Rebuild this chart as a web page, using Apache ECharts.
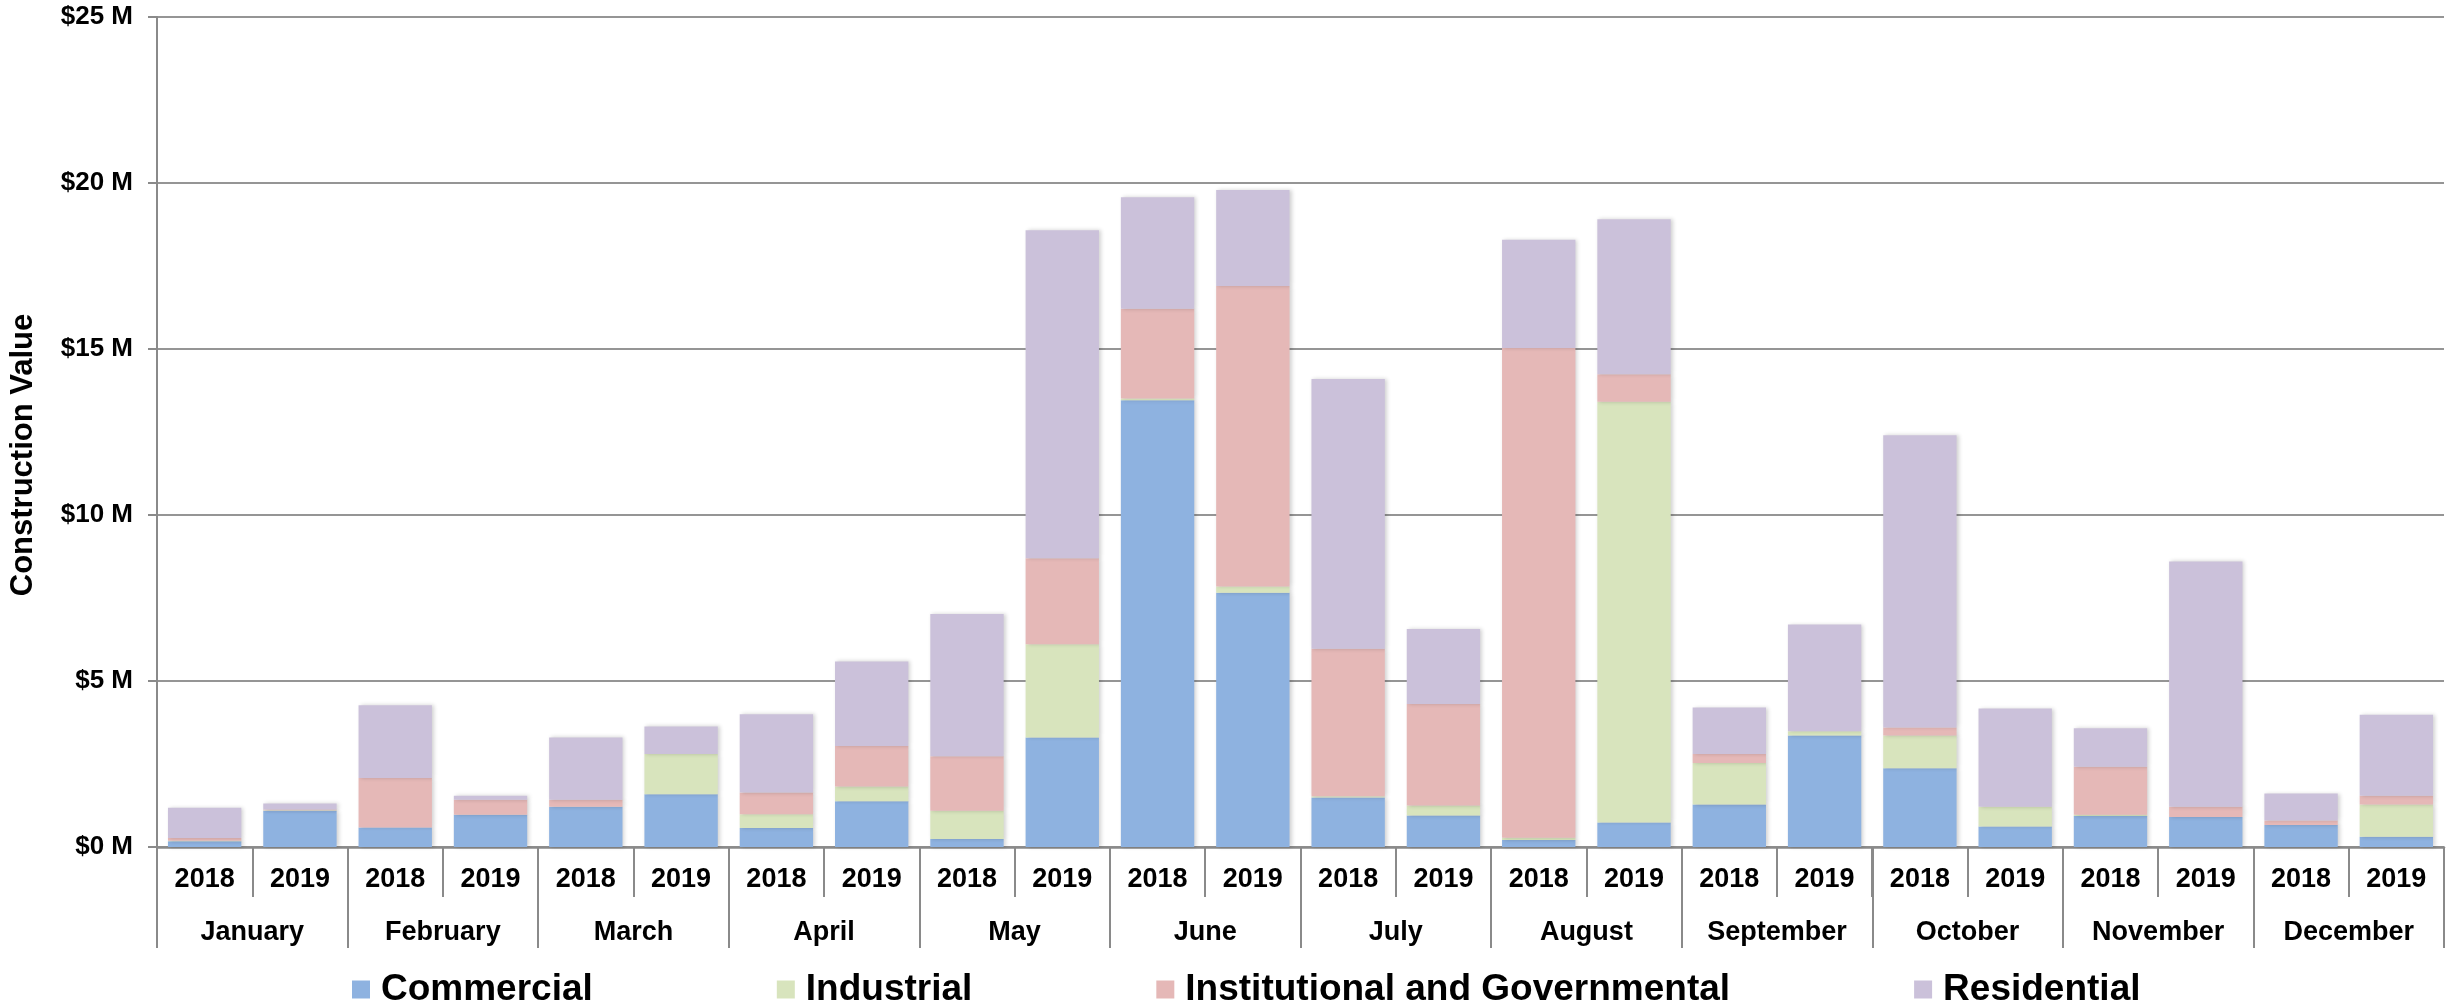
<!DOCTYPE html>
<html>
<head>
<meta charset="utf-8">
<script src="https://cdn.jsdelivr.net/npm/echarts@6/dist/echarts.min.js"></script>
<style>
html,body{margin:0;padding:0;background:#fff;}
#chart{width:2454px;height:1008px;}
</style>
</head>
<body>
<div id="chart"></div>
<script>
const months = ['January','February','March','April','May','June','July','August','September','October','November','December'];
const years = ['2018','2019'];
const yTicks = [0, 5, 10, 15, 20, 25];
// values in $ millions, order: Jan2018, Jan2019, Feb2018, ...
const commercial    = [0.17,1.09, 0.59,0.97, 1.21,1.59, 0.57,1.38, 0.24,3.30, 13.46,7.66, 1.49,0.95, 0.21,0.74, 1.28,3.36, 2.37,0.62, 0.93,0.90, 0.66,0.31];
const industrial    = [0.02,0.02, 0.00,0.00, 0.00,1.21, 0.42,0.44, 0.85,2.81, 0.05,0.19, 0.04,0.30, 0.07,12.67, 1.25,0.13, 0.99,0.59, 0.04,0.00, 0.00,0.97];
const institutional = [0.08,0.02, 1.49,0.45, 0.21,0.00, 0.65,1.22, 1.64,2.59, 2.70,9.05, 4.44,3.06, 14.75,0.83, 0.27,0.00, 0.24,0.00, 1.45,0.31, 0.14,0.26];
const residential   = [0.91,0.18, 2.19,0.12, 1.88,0.83, 2.36,2.55, 4.29,9.88, 3.36,2.89, 8.13,2.26, 3.26,4.67, 1.40,3.21, 8.80,2.96, 1.16,7.39, 0.81,2.44];

const yearLabels = [];
months.forEach(() => years.forEach(y => yearLabels.push(y)));

const colors = ['#8EB2E0', '#D8E4BD', '#E5B8B7', '#CBC1DA'];
const names = ['Commercial', 'Industrial', 'Institutional and Governmental', 'Residential'];
const seriesData = [commercial, industrial, institutional, residential];

const chart = echarts.init(document.getElementById('chart'));
const fontFam = '"Liberation Sans", Arial, sans-serif';
chart.setOption({
  animation: false,
  color: colors,
  grid: {left: 149, right: 10, top: 17, bottom: 161, containLabel: false},
  legend: {
    left: 347, top: 966,
    itemWidth: 18, itemHeight: 18, itemGap: 184,
    icon: 'rect',
    textStyle: {fontFamily: fontFam, fontWeight: 'bold', fontSize: 37, color: '#000', padding: [0,0,0,6]},
    data: names
  },
  xAxis: [
    {
      type: 'category', data: yearLabels, position: 'bottom',
      axisLine: {show: true, lineStyle: {color: '#8a8a8a', width: 2.5}},
      axisTick: {show: true, length: 50, lineStyle: {color: '#8a8a8a', width: 2}},
      axisLabel: {interval: 0, margin: 19, fontFamily: fontFam, fontWeight: 'bold', fontSize: 27, color: '#000'}
    },
    {
      type: 'category', data: months, position: 'bottom',
      axisLine: {show: false},
      axisTick: {show: true, length: 101, lineStyle: {color: '#8a8a8a', width: 2}},
      axisLabel: {interval: 0, margin: 72, fontFamily: fontFam, fontWeight: 'bold', fontSize: 27, color: '#000'}
    }
  ],
  yAxis: {
    type: 'value', min: 0, max: 25, interval: 5,
    name: 'Construction Value', nameLocation: 'middle', nameGap: 118,
    nameTextStyle: {fontFamily: fontFam, fontWeight: 'bold', fontSize: 31, color: '#000', padding: [0,46,0,0]},
    axisLine: {show: true, lineStyle: {color: '#8a8a8a', width: 2}},
    axisTick: {show: true, length: 9, lineStyle: {color: '#8a8a8a', width: 2}},
    splitLine: {show: true, lineStyle: {color: '#959595', width: 2}},
    axisLabel: {margin: 24, fontFamily: fontFam, fontWeight: 'bold', fontSize: 26, color: '#000',
      formatter: v => '$' + v + ' M'}
  },
  series: seriesData.map((d, i) => ({
    name: names[i], type: 'bar', stack: 'total', xAxisIndex: 0,
    barWidth: '77%',
    itemStyle: {color: colors[i], shadowColor: 'rgba(0,0,0,0.18)', shadowBlur: 4, shadowOffsetX: 2, shadowOffsetY: 0},
    data: d
  }))
});
</script>
</body>
</html>
